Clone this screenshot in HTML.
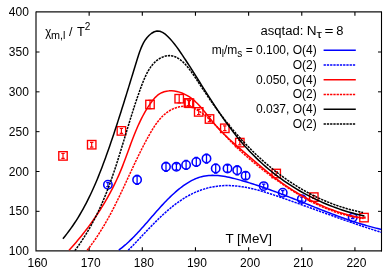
<!DOCTYPE html>
<html><head><meta charset="utf-8"><title>chart</title>
<style>
html,body{margin:0;padding:0;background:#fff;}
body{width:392px;height:275px;overflow:hidden;font-family:"Liberation Sans",sans-serif;}
svg{display:block;will-change:transform;}
text{font-family:"Liberation Sans",sans-serif;fill:#000;}
</style></head><body>
<svg width="392" height="275" viewBox="0 0 392 275">
<rect width="392" height="275" fill="#fff"/>

<defs><clipPath id="c"><rect x="36.00" y="12.00" width="345.50" height="238.70"/></clipPath></defs>
<g stroke="#000" fill="none">
<path d="M36.00,11.40 V250.90 H381.50" stroke-width="1.2" stroke="#111"/>
<path d="M36.00,11.90 H381.50" stroke-width="1.2" stroke="#111"/>
<path d="M381.50,11.40 V251.60" stroke-width="1.1"/>
<path d="M89.15,251.00 v-3.7 M89.15,12.00 v3.7" stroke-width="1.1"/>
<path d="M142.31,251.00 v-3.7 M142.31,12.00 v3.7" stroke-width="1.1"/>
<path d="M195.46,251.00 v-3.7 M195.46,12.00 v3.7" stroke-width="1.1"/>
<path d="M248.62,251.00 v-3.7 M248.62,12.00 v3.7" stroke-width="1.1"/>
<path d="M301.77,251.00 v-3.7 M301.77,12.00 v3.7" stroke-width="1.1"/>
<path d="M354.92,251.00 v-3.7 M354.92,12.00 v3.7" stroke-width="1.1"/>
<path d="M36.00,211.34 h3.5 M381.50,211.34 h-3.5" stroke-width="1.0"/>
<path d="M36.00,171.50 h3.5 M381.50,171.50 h-3.5" stroke-width="1.0"/>
<path d="M36.00,131.67 h3.5 M381.50,131.67 h-3.5" stroke-width="1.0"/>
<path d="M36.00,91.84 h3.5 M381.50,91.84 h-3.5" stroke-width="1.0"/>
<path d="M36.00,52.00 h3.5 M381.50,52.00 h-3.5" stroke-width="1.0"/>
</g>
<g fill="none" stroke="#0000ff" stroke-width="1.55">
<circle cx="107.90" cy="184.70" r="4.2"/>
<path d="M107.90,182.70 v4.00 M106.20,182.70 h3.4 M106.20,186.70 h3.4" stroke-width="1.25"/>
<circle cx="137.10" cy="179.80" r="4.2"/>
<path d="M137.10,175.30 v9.00 M135.40,175.30 h3.4 M135.40,184.30 h3.4" stroke-width="1.25"/>
<circle cx="166.00" cy="166.80" r="4.2"/>
<path d="M166.00,162.30 v9.00 M164.30,162.30 h3.4 M164.30,171.30 h3.4" stroke-width="1.25"/>
<circle cx="176.40" cy="166.80" r="4.2"/>
<path d="M176.40,163.80 v6.00 M174.70,163.80 h3.4 M174.70,169.80 h3.4" stroke-width="1.25"/>
<circle cx="186.10" cy="164.90" r="4.2"/>
<path d="M186.10,160.40 v9.00 M184.40,160.40 h3.4 M184.40,169.40 h3.4" stroke-width="1.25"/>
<circle cx="196.30" cy="161.90" r="4.2"/>
<path d="M196.30,157.40 v9.00 M194.60,157.40 h3.4 M194.60,166.40 h3.4" stroke-width="1.25"/>
<circle cx="206.50" cy="158.60" r="4.2"/>
<path d="M206.50,154.10 v9.00 M204.80,154.10 h3.4 M204.80,163.10 h3.4" stroke-width="1.25"/>
<circle cx="215.70" cy="168.50" r="4.2"/>
<path d="M215.70,164.00 v9.00 M214.00,164.00 h3.4 M214.00,173.00 h3.4" stroke-width="1.25"/>
<circle cx="227.50" cy="168.50" r="4.2"/>
<path d="M227.50,165.00 v7.00 M225.80,165.00 h3.4 M225.80,172.00 h3.4" stroke-width="1.25"/>
<circle cx="237.20" cy="170.30" r="4.2"/>
<path d="M237.20,165.80 v9.00 M235.50,165.80 h3.4 M235.50,174.80 h3.4" stroke-width="1.25"/>
<circle cx="245.60" cy="175.70" r="4.2"/>
<path d="M245.60,172.20 v7.00 M243.90,172.20 h3.4 M243.90,179.20 h3.4" stroke-width="1.25"/>
<circle cx="263.70" cy="186.10" r="4.2"/>
<path d="M263.70,184.10 v4.00 M262.00,184.10 h3.4 M262.00,188.10 h3.4" stroke-width="1.25"/>
<circle cx="282.75" cy="192.70" r="4.2"/>
<path d="M282.75,190.70 v4.00 M281.05,190.70 h3.4 M281.05,194.70 h3.4" stroke-width="1.25"/>
<circle cx="301.80" cy="199.10" r="4.2"/>
<path d="M301.80,197.10 v4.00 M300.10,197.10 h3.4 M300.10,201.10 h3.4" stroke-width="1.25"/>
<circle cx="352.70" cy="217.60" r="4.2"/>
<path d="M352.70,216.60 v2.00 M351.00,216.60 h3.4 M351.00,218.60 h3.4" stroke-width="1.25"/>
</g>
<g fill="none" stroke="#ff0000" stroke-width="1.35">
<rect x="58.78" y="151.68" width="8.45" height="8.45"/>
<path d="M63.00,153.50 v4.80 M61.30,153.50 h3.4 M61.30,158.30 h3.4" stroke-width="1.2"/>
<rect x="87.48" y="140.48" width="8.45" height="8.45"/>
<path d="M91.70,142.30 v4.80 M90.00,142.30 h3.4 M90.00,147.10 h3.4" stroke-width="1.2"/>
<rect x="117.18" y="126.68" width="8.45" height="8.45"/>
<path d="M121.40,128.50 v4.80 M119.70,128.50 h3.4 M119.70,133.30 h3.4" stroke-width="1.2"/>
<rect x="145.78" y="100.28" width="8.45" height="8.45"/>
<path d="M150.00,100.30 v8.40 M148.30,100.30 h3.4 M148.30,108.70 h3.4" stroke-width="1.2"/>
<rect x="174.98" y="94.48" width="8.45" height="8.45"/>
<path d="M179.20,94.50 v8.40 M177.50,94.50 h3.4 M177.50,102.90 h3.4" stroke-width="1.2"/>
<rect x="184.28" y="98.68" width="8.45" height="8.45"/>
<path d="M188.50,100.10 v5.60 M186.80,100.10 h3.4 M186.80,105.70 h3.4" stroke-width="1.2"/>
<rect x="185.18" y="98.98" width="8.45" height="8.45"/>
<path d="M189.40,100.60 v5.20 M187.70,100.60 h3.4 M187.70,105.80 h3.4" stroke-width="1.2"/>
<rect x="194.48" y="107.68" width="8.45" height="8.45"/>
<path d="M198.70,109.30 v5.20 M197.00,109.30 h3.4 M197.00,114.50 h3.4" stroke-width="1.2"/>
<rect x="205.28" y="114.78" width="8.45" height="8.45"/>
<path d="M209.50,116.40 v5.20 M207.80,116.40 h3.4 M207.80,121.60 h3.4" stroke-width="1.2"/>
<rect x="220.58" y="124.08" width="8.45" height="8.45"/>
<path d="M224.80,125.90 v4.80 M223.10,125.90 h3.4 M223.10,130.70 h3.4" stroke-width="1.2"/>
<rect x="235.58" y="138.38" width="8.45" height="8.45"/>
<path d="M239.80,140.40 v4.40 M238.10,140.40 h3.4 M238.10,144.80 h3.4" stroke-width="1.2"/>
<rect x="271.98" y="169.28" width="8.45" height="8.45"/>
<path d="M276.20,171.50 v4.00 M274.50,171.50 h3.4 M274.50,175.50 h3.4" stroke-width="1.2"/>
<rect x="309.58" y="192.88" width="8.45" height="8.45"/>
<path d="M313.80,195.70 v2.80 M312.10,195.70 h3.4 M312.10,198.50 h3.4" stroke-width="1.2"/>
<rect x="359.78" y="213.38" width="8.45" height="8.45"/>
<path d="M364.00,217.10 v1.00 M362.30,217.10 h3.4 M362.30,218.10 h3.4" stroke-width="1.2"/>
</g>
<g clip-path="url(#c)" fill="none" stroke-linejoin="round">
<path d="M118.80,250.08 L120.29,248.95 L121.75,247.80 L123.20,246.62 L124.63,245.42 L126.05,244.20 L127.44,242.95 L128.82,241.68 L130.18,240.40 L131.53,239.09 L132.87,237.77 L134.19,236.43 L135.51,235.08 L136.81,233.71 L138.10,232.33 L139.39,230.93 L140.67,229.53 L141.94,228.12 L143.20,226.70 L144.46,225.27 L145.72,223.83 L146.98,222.39 L148.23,220.95 L149.48,219.50 L150.74,218.05 L151.99,216.60 L153.25,215.15 L154.51,213.71 L155.77,212.26 L157.04,210.82 L158.32,209.39 L159.60,207.96 L160.89,206.53 L162.19,205.12 L163.50,203.72 L164.82,202.32 L166.16,200.94 L167.50,199.57 L168.86,198.21 L170.24,196.87 L171.63,195.55 L173.04,194.24 L174.47,192.95 L175.91,191.68 L177.37,190.43 L178.86,189.20 L180.36,188.00 L181.89,186.83 L183.43,185.70 L185.00,184.60 L186.58,183.55 L188.18,182.54 L189.80,181.58 L191.44,180.68 L193.10,179.84 L194.77,179.06 L196.46,178.35 L198.17,177.72 L199.89,177.15 L201.63,176.67 L203.39,176.27 L205.16,175.95 L206.95,175.70 L208.75,175.52 L210.56,175.41 L212.38,175.37 L214.21,175.39 L216.05,175.46 L217.90,175.59 L219.75,175.78 L221.61,176.00 L223.47,176.28 L225.34,176.59 L227.21,176.94 L229.08,177.32 L230.96,177.74 L232.83,178.18 L234.70,178.64 L236.56,179.13 L238.43,179.63 L240.29,180.14 L242.14,180.67 L243.99,181.20 L245.83,181.74 L247.67,182.30 L249.50,182.86 L251.33,183.43 L253.15,184.01 L254.97,184.59 L256.78,185.19 L258.59,185.79 L260.40,186.40 L262.20,187.01 L264.00,187.63 L265.79,188.26 L267.58,188.90 L269.37,189.54 L271.15,190.18 L272.93,190.84 L274.71,191.49 L276.49,192.15 L278.26,192.82 L280.03,193.49 L281.80,194.16 L283.56,194.84 L285.32,195.52 L287.08,196.20 L288.84,196.89 L290.60,197.58 L292.36,198.27 L294.11,198.96 L295.87,199.66 L297.62,200.35 L299.37,201.05 L301.12,201.75 L302.87,202.45 L304.62,203.15 L306.37,203.85 L308.12,204.54 L309.87,205.24 L311.62,205.94 L313.37,206.63 L315.12,207.33 L316.87,208.02 L318.62,208.71 L320.37,209.40 L322.12,210.09 L323.87,210.77 L325.63,211.45 L327.39,212.13 L329.14,212.80 L330.90,213.47 L332.67,214.14 L334.43,214.80 L336.20,215.45 L337.96,216.10 L339.73,216.75 L341.51,217.39 L343.28,218.02 L345.06,218.65 L346.84,219.27 L348.63,219.89 L350.42,220.50 L352.21,221.10 L354.01,221.69 L355.80,222.28 L357.61,222.85 L359.41,223.42 L361.23,223.98 L363.04,224.53 L364.86,225.08 L366.69,225.61 L368.52,226.13 L370.35,226.65 L372.19,227.15 L374.03,227.64 L375.88,228.12 L377.74,228.59 L379.60,229.05 L381.47,229.50" stroke="#0000ff" stroke-width="1.5"/>
<path d="M128.21,250.24 L129.38,249.08 L130.55,247.89 L131.72,246.69 L132.91,245.47 L134.09,244.24 L135.28,243.00 L136.48,241.74 L137.68,240.47 L138.89,239.20 L140.10,237.91 L141.32,236.62 L142.55,235.32 L143.78,234.01 L145.02,232.70 L146.26,231.39 L147.52,230.07 L148.78,228.75 L150.04,227.44 L151.32,226.12 L152.60,224.81 L153.89,223.50 L155.19,222.20 L156.49,220.90 L157.81,219.61 L159.13,218.33 L160.46,217.05 L161.81,215.79 L163.16,214.54 L164.52,213.30 L165.89,212.07 L167.27,210.86 L168.66,209.67 L170.06,208.49 L171.47,207.33 L172.89,206.19 L174.32,205.07 L175.76,203.97 L177.22,202.89 L178.69,201.84 L180.16,200.82 L181.65,199.81 L183.15,198.84 L184.67,197.89 L186.19,196.98 L187.73,196.09 L189.28,195.24 L190.85,194.42 L192.43,193.63 L194.02,192.87 L195.62,192.16 L197.24,191.48 L198.87,190.83 L200.51,190.22 L202.16,189.65 L203.82,189.11 L205.49,188.61 L207.17,188.15 L208.86,187.72 L210.56,187.34 L212.26,186.99 L213.97,186.67 L215.69,186.40 L217.41,186.16 L219.14,185.96 L220.87,185.80 L222.61,185.68 L224.35,185.60 L226.09,185.56 L227.84,185.55 L229.59,185.58 L231.34,185.65 L233.09,185.74 L234.85,185.88 L236.61,186.04 L238.37,186.23 L240.13,186.46 L241.89,186.71 L243.65,186.99 L245.41,187.30 L247.17,187.63 L248.94,187.98 L250.70,188.36 L252.46,188.76 L254.23,189.18 L255.99,189.62 L257.75,190.08 L259.51,190.55 L261.27,191.05 L263.02,191.55 L264.78,192.08 L266.53,192.61 L268.28,193.16 L270.03,193.71 L271.77,194.28 L273.51,194.86 L275.25,195.44 L276.99,196.03 L278.72,196.62 L280.45,197.22 L282.17,197.82 L283.89,198.43 L285.61,199.03 L287.32,199.64 L289.02,200.24 L290.72,200.85 L292.42,201.45 L294.11,202.06 L295.80,202.66 L297.49,203.27 L299.17,203.87 L300.85,204.47 L302.53,205.08 L304.20,205.68 L305.87,206.28 L307.54,206.88 L309.21,207.48 L310.87,208.08 L312.53,208.68 L314.20,209.28 L315.85,209.88 L317.51,210.48 L319.17,211.08 L320.83,211.68 L322.48,212.27 L324.13,212.87 L325.79,213.46 L327.44,214.06 L329.10,214.65 L330.75,215.24 L332.41,215.83 L334.06,216.42 L335.72,217.01 L337.38,217.60 L339.03,218.18 L340.69,218.77 L342.36,219.35 L344.02,219.94 L345.68,220.52 L347.35,221.10 L349.02,221.68 L350.69,222.26 L352.37,222.83 L354.04,223.41 L355.72,223.98 L357.41,224.55 L359.10,225.13 L360.79,225.69 L362.48,226.26 L364.18,226.83 L365.88,227.39 L367.59,227.96 L369.30,228.52 L371.02,229.08 L372.74,229.63 L374.47,230.19 L376.20,230.74 L377.94,231.30 L379.68,231.85 L381.43,232.39" stroke="#0000ff" stroke-width="1.5" stroke-dasharray="2.3 0.95"/>
<path d="M69.04,250.23 L70.85,248.24 L72.65,246.22 L74.43,244.19 L76.20,242.15 L77.94,240.08 L79.67,238.00 L81.39,235.90 L83.08,233.79 L84.76,231.65 L86.41,229.51 L88.05,227.34 L89.67,225.16 L91.26,222.97 L92.84,220.75 L94.39,218.53 L95.93,216.29 L97.44,214.03 L98.93,211.76 L100.40,209.47 L101.85,207.17 L103.27,204.86 L104.66,202.53 L106.04,200.19 L107.39,197.84 L108.71,195.47 L110.01,193.09 L111.29,190.69 L112.53,188.29 L113.75,185.87 L114.95,183.44 L116.12,181.00 L117.26,178.54 L118.37,176.08 L119.45,173.60 L120.50,171.11 L121.53,168.61 L122.53,166.10 L123.51,163.59 L124.47,161.07 L125.42,158.54 L126.35,156.01 L127.28,153.47 L128.21,150.94 L129.14,148.40 L130.06,145.87 L131.00,143.33 L131.95,140.80 L132.91,138.28 L133.89,135.77 L134.89,133.26 L135.91,130.76 L136.97,128.27 L138.05,125.79 L139.17,123.33 L140.33,120.88 L141.54,118.45 L142.79,116.03 L144.09,113.62 L145.46,111.22 L146.89,108.83 L148.40,106.44 L149.99,104.06 L151.66,101.70 L153.44,99.43 L155.32,97.33 L157.33,95.46 L159.47,93.91 L161.73,92.69 L164.10,91.78 L166.56,91.18 L169.08,90.87 L171.64,90.82 L174.23,91.03 L176.83,91.47 L179.40,92.14 L181.94,93.01 L184.41,94.08 L186.81,95.31 L189.11,96.71 L191.31,98.24 L193.41,99.91 L195.43,101.68 L197.38,103.56 L199.27,105.53 L201.10,107.56 L202.89,109.65 L204.64,111.78 L206.38,113.94 L208.10,116.12 L209.82,118.29 L211.55,120.45 L213.30,122.58 L215.08,124.67 L216.89,126.71 L218.72,128.71 L220.58,130.67 L222.47,132.60 L224.38,134.50 L226.31,136.37 L228.25,138.21 L230.22,140.03 L232.20,141.83 L234.19,143.61 L236.19,145.39 L238.21,147.15 L240.23,148.90 L242.26,150.66 L244.29,152.41 L246.32,154.16 L248.36,155.92 L250.40,157.67 L252.45,159.43 L254.49,161.18 L256.55,162.93 L258.61,164.68 L260.69,166.42 L262.77,168.14 L264.86,169.86 L266.96,171.57 L269.07,173.26 L271.20,174.94 L273.34,176.60 L275.50,178.24 L277.67,179.86 L279.86,181.47 L282.07,183.04 L284.29,184.60 L286.53,186.13 L288.79,187.63 L291.07,189.11 L293.36,190.57 L295.67,191.99 L298.00,193.39 L300.34,194.77 L302.69,196.11 L305.07,197.42 L307.45,198.71 L309.86,199.96 L312.27,201.18 L314.71,202.38 L317.15,203.54 L319.61,204.66 L322.09,205.76 L324.57,206.82 L327.07,207.84 L329.59,208.83 L332.11,209.79 L334.65,210.71 L337.20,211.59 L339.76,212.44 L342.34,213.24 L344.92,214.01 L347.52,214.74 L350.12,215.43 L352.74,216.08 L355.37,216.69 L358.01,217.26 L360.66,217.78 L363.31,218.27" stroke="#ff0000" stroke-width="1.5"/>
<path d="M87.16,250.25 L88.74,248.23 L90.29,246.19 L91.80,244.15 L93.28,242.09 L94.73,240.03 L96.15,237.96 L97.55,235.87 L98.92,233.78 L100.26,231.68 L101.57,229.57 L102.86,227.45 L104.13,225.33 L105.38,223.20 L106.60,221.06 L107.81,218.91 L109.00,216.75 L110.17,214.59 L111.32,212.43 L112.46,210.25 L113.58,208.07 L114.69,205.88 L115.79,203.69 L116.87,201.50 L117.95,199.29 L119.02,197.09 L120.08,194.87 L121.13,192.66 L122.18,190.44 L123.22,188.21 L124.26,185.98 L125.29,183.75 L126.33,181.52 L127.36,179.28 L128.40,177.04 L129.43,174.80 L130.47,172.55 L131.52,170.30 L132.56,168.05 L133.62,165.80 L134.68,163.55 L135.75,161.30 L136.83,159.04 L137.92,156.79 L139.02,154.53 L140.13,152.28 L141.26,150.02 L142.40,147.77 L143.55,145.51 L144.73,143.26 L145.92,141.00 L147.13,138.75 L148.36,136.50 L149.61,134.26 L150.90,132.03 L152.21,129.83 L153.56,127.67 L154.96,125.55 L156.41,123.49 L157.91,121.50 L159.47,119.58 L161.09,117.75 L162.78,116.02 L164.55,114.39 L166.40,112.88 L168.33,111.49 L170.35,110.25 L172.47,109.15 L174.69,108.20 L177.00,107.43 L179.38,106.84 L181.80,106.45 L184.24,106.29 L186.67,106.36 L189.08,106.68 L191.43,107.28 L193.71,108.15 L195.92,109.25 L198.06,110.52 L200.13,111.89 L202.16,113.32 L204.13,114.82 L206.06,116.37 L207.94,117.98 L209.79,119.64 L211.61,121.33 L213.39,123.07 L215.15,124.83 L216.89,126.62 L218.61,128.43 L220.32,130.25 L222.02,132.08 L223.72,133.92 L225.42,135.75 L227.13,137.58 L228.84,139.40 L230.56,141.19 L232.30,142.97 L234.06,144.73 L235.83,146.47 L237.61,148.19 L239.41,149.89 L241.22,151.58 L243.05,153.25 L244.88,154.90 L246.73,156.53 L248.60,158.15 L250.47,159.76 L252.36,161.35 L254.26,162.93 L256.17,164.49 L258.10,166.05 L260.03,167.59 L261.97,169.11 L263.93,170.63 L265.90,172.14 L267.87,173.63 L269.86,175.12 L271.85,176.59 L273.86,178.06 L275.87,179.52 L277.90,180.96 L279.93,182.40 L281.98,183.82 L284.03,185.23 L286.10,186.63 L288.17,188.01 L290.26,189.37 L292.35,190.72 L294.46,192.05 L296.58,193.35 L298.71,194.64 L300.85,195.91 L303.00,197.15 L305.17,198.38 L307.34,199.57 L309.53,200.75 L311.73,201.89 L313.94,203.01 L316.16,204.10 L318.40,205.16 L320.65,206.20 L322.91,207.20 L325.18,208.17 L327.47,209.10 L329.77,210.00 L332.09,210.87 L334.41,211.70 L336.76,212.50 L339.11,213.25 L341.48,213.97 L343.86,214.65 L346.26,215.29 L348.67,215.88 L351.10,216.43 L353.54,216.94 L355.99,217.41 L358.46,217.83 L360.95,218.20 L363.45,218.52" stroke="#ff0000" stroke-width="1.5" stroke-dasharray="2.3 0.95"/>
<path d="M62.91,238.66 L64.98,236.16 L67.00,233.61 L68.97,231.03 L70.89,228.40 L72.76,225.74 L74.58,223.04 L76.36,220.31 L78.09,217.55 L79.78,214.76 L81.42,211.93 L83.03,209.08 L84.60,206.21 L86.13,203.31 L87.62,200.39 L89.08,197.44 L90.51,194.48 L91.90,191.50 L93.26,188.50 L94.59,185.48 L95.90,182.46 L97.18,179.42 L98.43,176.37 L99.65,173.31 L100.86,170.24 L102.04,167.17 L103.20,164.10 L104.34,161.02 L105.47,157.94 L106.58,154.86 L107.67,151.78 L108.75,148.71 L109.82,145.64 L110.87,142.57 L111.92,139.51 L112.95,136.45 L113.97,133.39 L114.99,130.33 L116.00,127.27 L117.00,124.21 L117.99,121.14 L118.98,118.08 L119.96,115.01 L120.94,111.93 L121.91,108.85 L122.88,105.77 L123.85,102.68 L124.81,99.58 L125.78,96.47 L126.74,93.36 L127.70,90.23 L128.67,87.10 L129.64,83.95 L130.61,80.79 L131.58,77.62 L132.56,74.44 L133.54,71.24 L134.53,68.02 L135.53,64.79 L136.53,61.55 L137.54,58.28 L138.57,55.02 L139.66,51.79 L140.84,48.64 L142.14,45.59 L143.60,42.69 L145.24,39.97 L147.11,37.46 L149.23,35.21 L151.64,33.26 L154.28,31.77 L157.05,31.02 L159.82,31.26 L162.55,32.38 L165.22,34.18 L167.78,36.46 L170.22,39.01 L172.50,41.63 L174.63,44.27 L176.64,46.90 L178.55,49.55 L180.40,52.20 L182.20,54.87 L183.98,57.55 L185.76,60.25 L187.52,62.97 L189.28,65.70 L191.03,68.43 L192.78,71.18 L194.53,73.94 L196.27,76.71 L198.01,79.48 L199.75,82.25 L201.50,85.03 L203.25,87.81 L205.00,90.58 L206.76,93.36 L208.52,96.13 L210.30,98.90 L212.08,101.67 L213.88,104.43 L215.68,107.17 L217.51,109.91 L219.34,112.64 L221.19,115.35 L223.06,118.05 L224.95,120.73 L226.86,123.40 L228.78,126.05 L230.74,128.67 L232.71,131.28 L234.71,133.86 L236.74,136.42 L238.79,138.95 L240.88,141.46 L242.99,143.93 L245.14,146.38 L247.32,148.79 L249.53,151.17 L251.78,153.52 L254.06,155.83 L256.37,158.11 L258.72,160.35 L261.10,162.56 L263.51,164.74 L265.95,166.87 L268.43,168.97 L270.93,171.04 L273.47,173.07 L276.03,175.06 L278.63,177.01 L281.25,178.93 L283.90,180.81 L286.58,182.65 L289.29,184.45 L292.02,186.21 L294.78,187.94 L297.57,189.62 L300.38,191.27 L303.21,192.87 L306.07,194.44 L308.95,195.96 L311.86,197.44 L314.79,198.88 L317.74,200.28 L320.72,201.64 L323.71,202.95 L326.73,204.23 L329.77,205.46 L332.82,206.64 L335.90,207.79 L339.00,208.89 L342.11,209.94 L345.24,210.95 L348.39,211.92 L351.56,212.84 L354.74,213.71 L357.94,214.54 L361.16,215.33 L364.39,216.06" stroke="#000" stroke-width="1.5"/>
<path d="M74.79,250.77 L76.68,248.19 L78.52,245.61 L80.31,243.01 L82.05,240.41 L83.75,237.80 L85.39,235.18 L87.00,232.56 L88.56,229.92 L90.08,227.28 L91.55,224.63 L92.99,221.98 L94.39,219.31 L95.76,216.64 L97.08,213.96 L98.38,211.27 L99.64,208.57 L100.87,205.87 L102.07,203.16 L103.24,200.44 L104.38,197.71 L105.50,194.98 L106.59,192.23 L107.66,189.48 L108.71,186.73 L109.74,183.96 L110.74,181.19 L111.73,178.41 L112.70,175.62 L113.66,172.83 L114.60,170.03 L115.53,167.22 L116.44,164.40 L117.35,161.57 L118.24,158.74 L119.13,155.90 L120.02,153.06 L120.89,150.20 L121.77,147.34 L122.64,144.48 L123.51,141.60 L124.38,138.72 L125.25,135.83 L126.12,132.93 L127.00,130.03 L127.89,127.12 L128.78,124.20 L129.67,121.28 L130.58,118.34 L131.50,115.41 L132.43,112.46 L133.37,109.51 L134.33,106.55 L135.30,103.58 L136.30,100.61 L137.30,97.63 L138.33,94.64 L139.38,91.65 L140.46,88.65 L141.56,85.65 L142.70,82.67 L143.89,79.73 L145.15,76.85 L146.49,74.07 L147.92,71.39 L149.46,68.83 L151.11,66.43 L152.90,64.21 L154.84,62.17 L156.93,60.35 L159.20,58.78 L161.65,57.46 L164.27,56.44 L167.00,55.79 L169.76,55.59 L172.48,55.91 L175.12,56.74 L177.67,58.01 L180.13,59.64 L182.49,61.58 L184.75,63.76 L186.88,66.10 L188.89,68.55 L190.78,71.06 L192.58,73.60 L194.31,76.16 L196.01,78.72 L197.69,81.28 L199.36,83.83 L201.04,86.36 L202.72,88.89 L204.40,91.40 L206.08,93.90 L207.77,96.39 L209.46,98.87 L211.17,101.34 L212.89,103.79 L214.62,106.23 L216.37,108.66 L218.13,111.08 L219.92,113.49 L221.72,115.88 L223.55,118.26 L225.40,120.63 L227.27,122.99 L229.16,125.33 L231.08,127.66 L233.02,129.97 L234.98,132.27 L236.96,134.54 L238.96,136.81 L240.99,139.05 L243.04,141.27 L245.11,143.48 L247.20,145.66 L249.31,147.82 L251.45,149.97 L253.60,152.09 L255.78,154.18 L257.98,156.26 L260.20,158.31 L262.44,160.33 L264.71,162.33 L266.99,164.31 L269.30,166.26 L271.63,168.18 L273.98,170.07 L276.35,171.93 L278.74,173.77 L281.15,175.57 L283.58,177.34 L286.04,179.09 L288.51,180.80 L291.01,182.47 L293.52,184.12 L296.06,185.73 L298.62,187.31 L301.20,188.85 L303.80,190.35 L306.42,191.82 L309.06,193.25 L311.72,194.65 L314.40,196.00 L317.10,197.32 L319.82,198.60 L322.57,199.83 L325.33,201.03 L328.11,202.18 L330.91,203.29 L333.74,204.36 L336.58,205.39 L339.44,206.37 L342.33,207.30 L345.23,208.19 L348.15,209.03 L351.10,209.83 L354.06,210.58 L357.04,211.28 L360.04,211.93 L363.06,212.53" stroke="#000" stroke-width="1.5" stroke-dasharray="2.3 0.95"/>
</g>
<g font-size="12" opacity="0.999">
<text x="37.50" y="267.2" text-anchor="middle">160</text>
<text x="90.65" y="267.2" text-anchor="middle">170</text>
<text x="143.81" y="267.2" text-anchor="middle">180</text>
<text x="196.96" y="267.2" text-anchor="middle">190</text>
<text x="250.12" y="267.2" text-anchor="middle">200</text>
<text x="303.27" y="267.2" text-anchor="middle">210</text>
<text x="356.42" y="267.2" text-anchor="middle">220</text>
<text x="28.9" y="255.30" text-anchor="end">100</text>
<text x="28.9" y="215.47" text-anchor="end">150</text>
<text x="28.9" y="175.63" text-anchor="end">200</text>
<text x="28.9" y="135.80" text-anchor="end">250</text>
<text x="28.9" y="95.97" text-anchor="end">300</text>
<text x="28.9" y="56.13" text-anchor="end">350</text>
<text x="28.9" y="16.30" text-anchor="end">400</text>
<text x="225.4" y="243.1" textLength="46.6" lengthAdjust="spacingAndGlyphs">T [MeV]</text>
<text x="45.2" y="35.7" font-size="13" textLength="6" lengthAdjust="spacingAndGlyphs">χ</text>
<text x="51" y="39.2" font-size="10.2" textLength="14.4" lengthAdjust="spacingAndGlyphs">m,l</text>
<text x="68.9" y="35.7" font-size="12.5">/</text>
<text x="77.0" y="35.7" font-size="12.5" textLength="7.8" lengthAdjust="spacingAndGlyphs">T</text>
<text x="84.7" y="29.6" font-size="10.2" textLength="5.6" lengthAdjust="spacingAndGlyphs">2</text>
<text x="260.6" y="34.80" textLength="42.8" lengthAdjust="spacingAndGlyphs">asqtad:</text>
<text x="306.8" y="34.80" textLength="9.8" lengthAdjust="spacingAndGlyphs">N</text>
<text x="316.4" y="38.30" font-size="10.2" textLength="5.4" lengthAdjust="spacingAndGlyphs">τ</text>
<text x="324.6" y="34.80" textLength="9" lengthAdjust="spacingAndGlyphs">=</text>
<text x="336.3" y="34.80" textLength="7.2" lengthAdjust="spacingAndGlyphs">8</text>
<text x="316.7" y="54.10" text-anchor="end">m<tspan font-size="10" dy="3">l</tspan><tspan dy="-3">/m</tspan><tspan font-size="10" dy="3">s</tspan><tspan dy="-3"> = 0.100, O(4)</tspan></text>
<path d="M323.6,50.35 H355.8" stroke="#0000ff" stroke-width="1.5" fill="none"/>
<text x="316.7" y="68.85" text-anchor="end">O(2)</text>
<path d="M323.6,65.10 H355.8" stroke="#0000ff" stroke-width="1.5" fill="none" stroke-dasharray="2.3 0.95"/>
<text x="316.7" y="83.60" text-anchor="end">0.050, O(4)</text>
<path d="M323.6,79.85 H355.8" stroke="#ff0000" stroke-width="1.5" fill="none"/>
<text x="316.7" y="98.35" text-anchor="end">O(2)</text>
<path d="M323.6,94.60 H355.8" stroke="#ff0000" stroke-width="1.5" fill="none" stroke-dasharray="2.3 0.95"/>
<text x="316.7" y="113.10" text-anchor="end">0.037, O(4)</text>
<path d="M323.6,109.35 H355.8" stroke="#000" stroke-width="1.5" fill="none"/>
<text x="316.7" y="127.85" text-anchor="end">O(2)</text>
<path d="M323.6,124.10 H355.8" stroke="#000" stroke-width="1.5" fill="none" stroke-dasharray="2.3 0.95"/>
</g>
</svg></body></html>
